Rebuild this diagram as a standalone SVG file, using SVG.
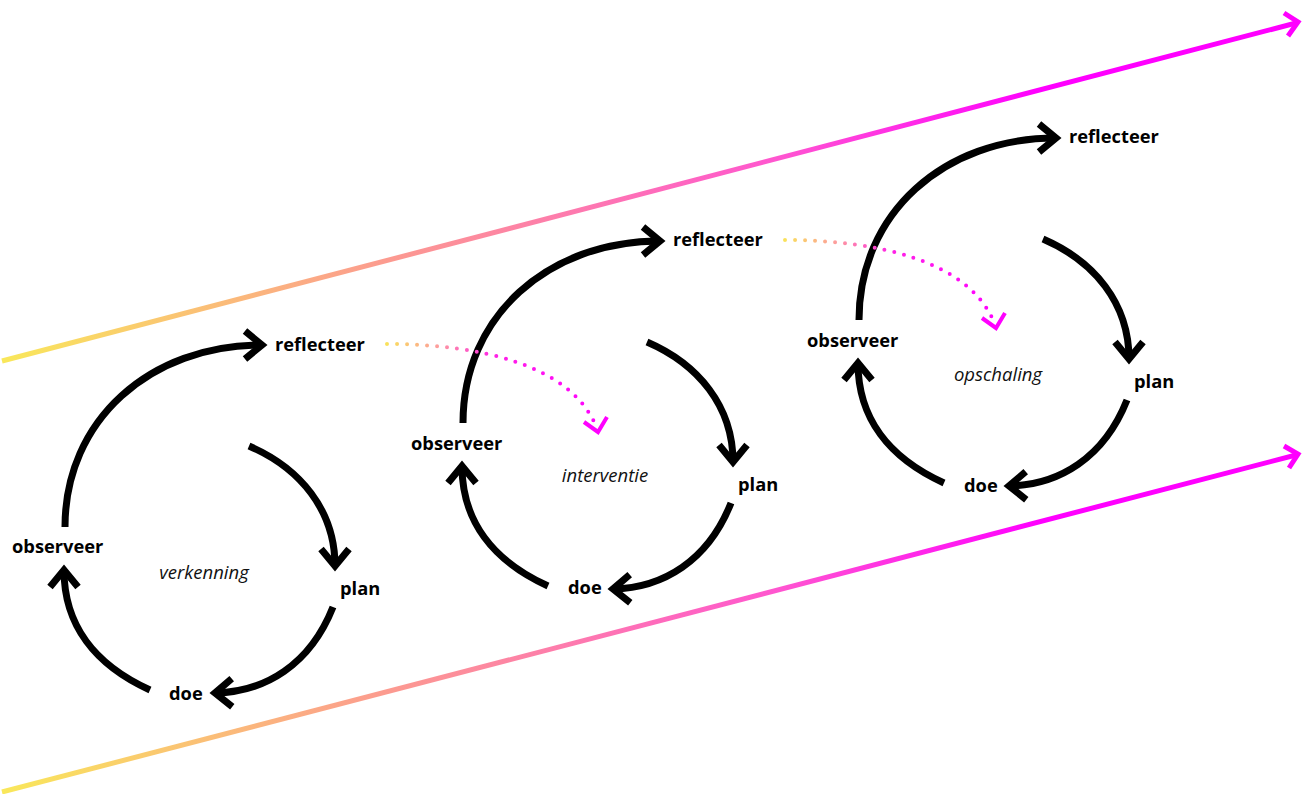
<svg xmlns="http://www.w3.org/2000/svg" width="1308" height="794" viewBox="0 0 1308 794">
<style>
.lbl{font-family:"Open Sans","Liberation Sans",sans-serif;font-weight:700;font-size:18.3px;fill:#000}
.ttl{font-family:"Open Sans","Liberation Sans",sans-serif;font-style:italic;font-size:18.5px;fill:#111}
.arc{fill:none;stroke:#000;stroke-width:7;marker-end:url(#ah)}
.dot{fill:none;stroke:url(#dg);stroke-width:4;stroke-linecap:round;stroke-dasharray:0 10}
.dhead{fill:none;stroke:#ff00ff;stroke-width:4}
.big{fill:none;stroke:url(#bg);stroke-width:5}
.bhead{fill:none;stroke:#ff00ff;stroke-width:5}
</style>
<defs>
<marker id="ah" markerUnits="userSpaceOnUse" markerWidth="40" markerHeight="40" viewBox="-30 -20 40 40" refX="0" refY="0" orient="auto" overflow="visible">
<path d="M-17,-14 L0,0 L-17,14" fill="none" stroke="#000" stroke-width="7"/>
</marker>
<linearGradient id="dg" gradientUnits="userSpaceOnUse" x1="387" y1="0" x2="600" y2="0">
<stop offset="0" stop-color="#f9e15a"/>
<stop offset="0.25" stop-color="#fd9aa0"/>
<stop offset="0.5" stop-color="#ff22e6"/>
<stop offset="1" stop-color="#ff00ff"/>
</linearGradient>
<linearGradient id="bg" gradientUnits="userSpaceOnUse" x1="0" y1="0" x2="1300" y2="0">
<stop offset="0" stop-color="#f9e85a"/>
<stop offset="0.3" stop-color="#fc9a90"/>
<stop offset="0.6" stop-color="#ff55d0"/>
<stop offset="0.8" stop-color="#ff00ff"/>
<stop offset="1" stop-color="#ff00ff"/>
</linearGradient>
</defs>

<g id="connectors">
<g id="axis-top">
<path class="big" d="M2,361 L1296,23"/>
<path class="bhead" d="M1284,13 L1298,22 L1288,36"/>
</g>
<g id="axis-bottom">
<path class="big" d="M2,792 L1296,455"/>
<path class="bhead" d="M1284,446 L1298,454 L1289,468"/>
</g>
<g id="cycle1-arcs">
<path class="arc" d="M65,527 C65,420 150,345 262,345"/>
<path class="arc" d="M249,446 C300,468 335,510 335,566"/>
<path class="arc" d="M333,607 C310,665 265,692 215,693"/>
<path class="arc" d="M150,690 C95,665 64,625 64,570"/>
</g>
<g id="cycle2-arcs" transform="translate(398,-104)">
<path class="arc" d="M65,527 C65,420 150,345 262,345"/>
<path class="arc" d="M249,446 C300,468 335,510 335,566"/>
<path class="arc" d="M333,607 C310,665 265,692 215,693"/>
<path class="arc" d="M150,690 C95,665 64,625 64,570"/>
</g>
<g id="cycle3-arcs" transform="translate(794,-207)">
<path class="arc" d="M65,527 C65,420 150,345 262,345"/>
<path class="arc" d="M249,446 C300,468 335,510 335,566"/>
<path class="arc" d="M333,607 C310,665 265,692 215,693"/>
<path class="arc" d="M150,690 C95,665 64,625 64,570"/>
</g>
<g id="link1">
<path class="dot" d="M387,344 C480,344 570,365 596,426"/>
<path class="dhead" d="M584,422 L598,432 L607,417"/>
</g>
<g id="link2" transform="translate(398,-104)">
<path class="dot" d="M387,344 C480,344 570,365 596,426"/>
<path class="dhead" d="M584,422 L598,432 L607,417"/>
</g>
</g>

<g id="cycle1">
<text class="lbl" x="275" y="351">reflecteer</text>
<text class="lbl" x="340" y="595">plan</text>
<text class="lbl" x="169" y="700">doe</text>
<text class="lbl" x="12" y="553">observeer</text>
<text class="ttl" x="204" y="579" text-anchor="middle">verkenning</text>
</g>
<g id="cycle2">
<text class="lbl" x="673" y="246">reflecteer</text>
<text class="lbl" x="738" y="491">plan</text>
<text class="lbl" x="568" y="594">doe</text>
<text class="lbl" x="411" y="450">observeer</text>
<text class="ttl" x="605" y="482" text-anchor="middle">interventie</text>
</g>
<g id="cycle3">
<text class="lbl" x="1069" y="143">reflecteer</text>
<text class="lbl" x="1134" y="388">plan</text>
<text class="lbl" x="964" y="492">doe</text>
<text class="lbl" x="807" y="347">observeer</text>
<text class="ttl" x="998" y="381" text-anchor="middle">opschaling</text>
</g>
</svg>
